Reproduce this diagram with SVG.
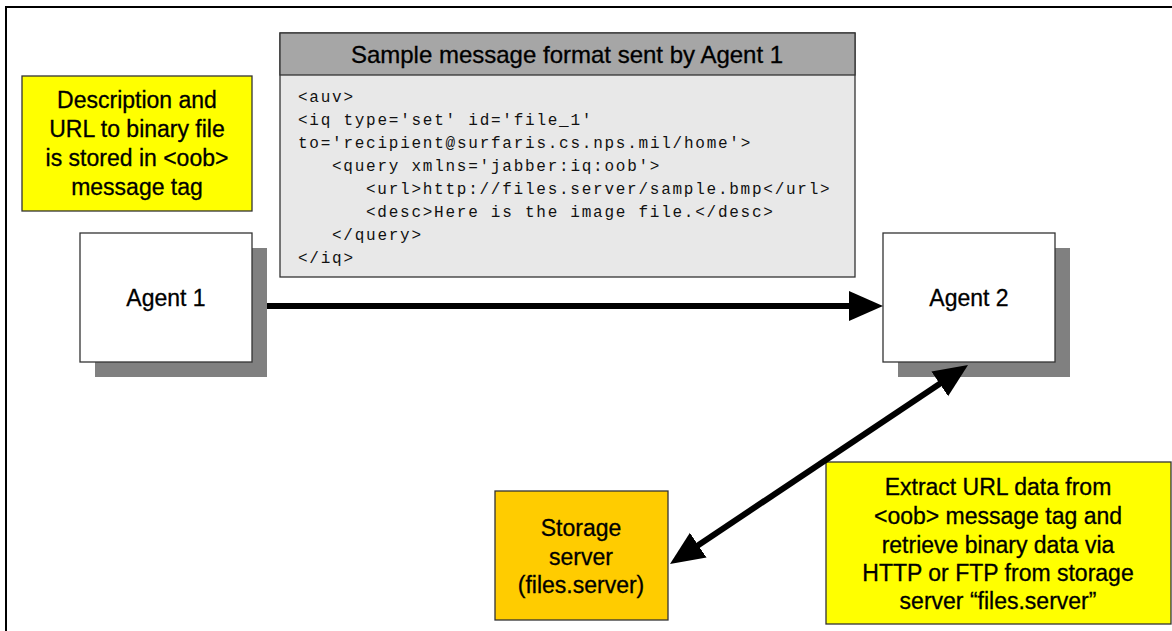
<svg xmlns="http://www.w3.org/2000/svg" width="1172" height="631" viewBox="0 0 1172 631">
<style>
.box{stroke:#333;stroke-width:1.3}
.lbl{font-family:"Liberation Sans",Arial,sans-serif;font-size:23px;fill:#000;text-anchor:middle;stroke:#000;stroke-width:0.3}
.hdr{font-size:24px}
.code{font-family:"Liberation Mono","Courier New",monospace;font-size:16px;letter-spacing:1.75px;fill:#111}
.shadow{fill:#808080}
.conn{stroke:#000;stroke-width:6;fill:none}
</style>
<defs>
<marker id="ah" markerUnits="userSpaceOnUse" markerWidth="36" markerHeight="32" refX="14" refY="16" orient="auto-start-reverse" viewBox="0 0 36 32">
<path d="M0,1 L34,16 L0,31 z" fill="#000"/>
</marker>
</defs>
<rect x="0" y="0" width="1172" height="631" fill="#fff"/>
<rect x="6" y="7" width="1180" height="640" fill="none" stroke="#000" stroke-width="2"/>

<g id="note-desc">
<rect class="box" x="22" y="76" width="230" height="135" fill="#ffff00"/>
<text class="lbl" x="137" y="108">Description and</text>
<text class="lbl" x="137" y="137">URL to binary file</text>
<text class="lbl" x="137" y="166">is stored in &lt;oob&gt;</text>
<text class="lbl" x="137" y="195">message tag</text>
</g>

<g id="message">
<rect class="box" x="280" y="33" width="575" height="244" fill="#e8e8e8"/>
<rect class="box" x="280" y="33" width="575" height="42" fill="#a6a6a6"/>
<text class="lbl hdr" x="567" y="63">Sample message format sent by Agent 1</text>
<text class="code" x="298" y="102">&lt;auv&gt;</text>
<text class="code" x="298" y="125">&lt;iq type='set' id='file_1'</text>
<text class="code" x="298" y="148">to='recipient@surfaris.cs.nps.mil/home'&gt;</text>
<text class="code" x="332" y="171">&lt;query xmlns='jabber:iq:oob'&gt;</text>
<text class="code" x="366" y="194">&lt;url&gt;http://files.server/sample.bmp&lt;/url&gt;</text>
<text class="code" x="366" y="217">&lt;desc&gt;Here is the image file.&lt;/desc&gt;</text>
<text class="code" x="332" y="240">&lt;/query&gt;</text>
<text class="code" x="298" y="263">&lt;/iq&gt;</text>
</g>

<g id="agent1">
<rect class="shadow" x="95" y="248" width="172" height="129"/>
<rect class="box" x="80" y="233" width="172" height="129" fill="#fff"/>
<text class="lbl" x="166" y="306">Agent 1</text>
</g>

<g id="agent2">
<rect class="shadow" x="898" y="248" width="172" height="129"/>
<rect class="box" x="883" y="233" width="172" height="129" fill="#fff"/>
<text class="lbl" x="969" y="306">Agent 2</text>
</g>

<g id="storage">
<rect class="box" x="495" y="491" width="173" height="129" fill="#ffcc00"/>
<text class="lbl" x="581" y="536">Storage</text>
<text class="lbl" x="581" y="565">server</text>
<text class="lbl" x="581" y="593">(files.server)</text>
</g>

<g id="note-extract">
<rect class="box" x="826" y="462" width="345" height="162" fill="#ffff00"/>
<text class="lbl" x="998" y="495">Extract URL data from</text>
<text class="lbl" x="998" y="524">&lt;oob&gt; message tag and</text>
<text class="lbl" x="998" y="553">retrieve binary data via</text>
<text class="lbl" x="998" y="581">HTTP or FTP from storage</text>
<text class="lbl" x="998" y="609">server “files.server”</text>
</g>

<g id="connectors">
<line class="conn" x1="267" y1="306" x2="863" y2="306" marker-end="url(#ah)"/>
<line class="conn" x1="686.6" y1="552.9" x2="951.4" y2="376.1" marker-start="url(#ah)" marker-end="url(#ah)"/>
</g>
</svg>
